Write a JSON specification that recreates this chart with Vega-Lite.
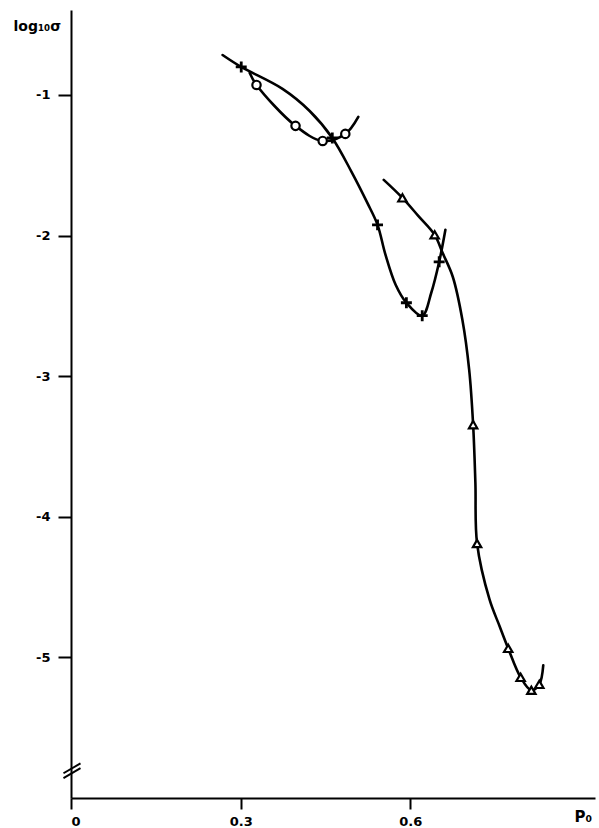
{
  "$schema": "https://vega.github.io/schema/vega-lite/v6.json",
  "width": 524,
  "height": 788,
  "autosize": {"type": "none"},
  "padding": {"left": 71, "top": 10, "right": 4, "bottom": 30},
  "background": "white",
  "config": {
    "view": {"stroke": null},
    "font": "DejaVu Sans",
    "axis": {
      "domainColor": "black",
      "domainWidth": 2,
      "tickColor": "black",
      "tickWidth": 2,
      "grid": false,
      "labelColor": "black",
      "labelFont": "DejaVu Sans",
      "labelFontWeight": "bold",
      "labelFontSize": 13,
      "titleColor": "black",
      "titleFont": "DejaVu Sans",
      "titleFontWeight": "bold"
    }
  },
  "datasets": {
    "curves": [
      {"series": "plus", "seq": 1, "p": 0.268, "logsigma": -0.716, "marked": 0},
      {"series": "plus", "seq": 2, "p": 0.301, "logsigma": -0.801, "marked": 1},
      {"series": "plus", "seq": 3, "p": 0.374, "logsigma": -0.957, "marked": 0},
      {"series": "plus", "seq": 4, "p": 0.422, "logsigma": -1.114, "marked": 0},
      {"series": "plus", "seq": 5, "p": 0.462, "logsigma": -1.306, "marked": 1},
      {"series": "plus", "seq": 6, "p": 0.496, "logsigma": -1.547, "marked": 0},
      {"series": "plus", "seq": 7, "p": 0.524, "logsigma": -1.768, "marked": 0},
      {"series": "plus", "seq": 8, "p": 0.542, "logsigma": -1.924, "marked": 1},
      {"series": "plus", "seq": 9, "p": 0.556, "logsigma": -2.136, "marked": 0},
      {"series": "plus", "seq": 10, "p": 0.574, "logsigma": -2.35, "marked": 0},
      {"series": "plus", "seq": 11, "p": 0.593, "logsigma": -2.478, "marked": 1},
      {"series": "plus", "seq": 12, "p": 0.621, "logsigma": -2.57, "marked": 1},
      {"series": "plus", "seq": 13, "p": 0.637, "logsigma": -2.407, "marked": 0},
      {"series": "plus", "seq": 14, "p": 0.651, "logsigma": -2.187, "marked": 1},
      {"series": "plus", "seq": 15, "p": 0.662, "logsigma": -1.959, "marked": 0},

      {"series": "circle", "seq": 1, "p": 0.316, "logsigma": -0.844, "marked": 0},
      {"series": "circle", "seq": 2, "p": 0.328, "logsigma": -0.929, "marked": 1},
      {"series": "circle", "seq": 3, "p": 0.397, "logsigma": -1.22, "marked": 1},
      {"series": "circle", "seq": 4, "p": 0.445, "logsigma": -1.327, "marked": 1},
      {"series": "circle", "seq": 5, "p": 0.485, "logsigma": -1.277, "marked": 1},
      {"series": "circle", "seq": 6, "p": 0.508, "logsigma": -1.156, "marked": 0},

      {"series": "triangle", "seq": 1, "p": 0.553, "logsigma": -1.604, "marked": 0},
      {"series": "triangle", "seq": 2, "p": 0.586, "logsigma": -1.732, "marked": 1},
      {"series": "triangle", "seq": 3, "p": 0.614, "logsigma": -1.86, "marked": 0},
      {"series": "triangle", "seq": 4, "p": 0.643, "logsigma": -1.995, "marked": 1},
      {"series": "triangle", "seq": 5, "p": 0.657, "logsigma": -2.123, "marked": 0},
      {"series": "triangle", "seq": 6, "p": 0.675, "logsigma": -2.293, "marked": 0},
      {"series": "triangle", "seq": 7, "p": 0.692, "logsigma": -2.599, "marked": 0},
      {"series": "triangle", "seq": 8, "p": 0.704, "logsigma": -2.954, "marked": 0},
      {"series": "triangle", "seq": 9, "p": 0.711, "logsigma": -3.345, "marked": 1},
      {"series": "triangle", "seq": 10, "p": 0.715, "logsigma": -3.757, "marked": 0},
      {"series": "triangle", "seq": 11, "p": 0.718, "logsigma": -4.19, "marked": 1},
      {"series": "triangle", "seq": 12, "p": 0.74, "logsigma": -4.588, "marked": 0},
      {"series": "triangle", "seq": 13, "p": 0.758, "logsigma": -4.78, "marked": 0},
      {"series": "triangle", "seq": 14, "p": 0.773, "logsigma": -4.936, "marked": 1},
      {"series": "triangle", "seq": 15, "p": 0.795, "logsigma": -5.142, "marked": 1},
      {"series": "triangle", "seq": 16, "p": 0.814, "logsigma": -5.234, "marked": 1},
      {"series": "triangle", "seq": 17, "p": 0.828, "logsigma": -5.192, "marked": 1},
      {"series": "triangle", "seq": 18, "p": 0.835, "logsigma": -5.057, "marked": 0}
    ],
    "breaks": [
      {"p": -0.0133, "logsigma": -5.824, "p2": 0.0168, "logsigma2": -5.753},
      {"p": -0.0133, "logsigma": -5.859, "p2": 0.0168, "logsigma2": -5.788}
    ]
  },
  "encoding": {
    "x": {
      "field": "p",
      "type": "quantitative",
      "scale": {"domain": [0, 0.9265], "nice": false, "zero": false},
      "axis": {
        "values": [0, 0.3, 0.6],
        "labelExpr": "datum.value == 0 ? '0' : format(datum.value, '.1f')",
        "tickSize": 11,
        "labelPadding": 6,
        "title": "P₀",
        "titleFontSize": 15,
        "titleAlign": "left",
        "titleBaseline": "alphabetic",
        "titleAnchor": null,
        "titleX": 503,
        "titleY": 23
      }
    },
    "y": {
      "field": "logsigma",
      "type": "quantitative",
      "scale": {"domain": [-6, -0.396], "nice": false, "zero": false},
      "axis": {
        "values": [-1, -2, -3, -4, -5],
        "labelExpr": "'-' + abs(datum.value)",
        "tickSize": 13,
        "labelPadding": 8,
        "title": "log₁₀σ",
        "titleAngle": 0,
        "titleFontSize": 14,
        "titleAlign": "left",
        "titleBaseline": "alphabetic",
        "titleAnchor": null,
        "titleX": -58,
        "titleY": 20
      }
    }
  },
  "layer": [
    {
      "data": {"name": "curves"},
      "mark": {"type": "line", "interpolate": "catmull-rom", "color": "black", "strokeWidth": 2.6, "strokeCap": "round"},
      "encoding": {
        "detail": {"field": "series", "type": "nominal"},
        "order": {"field": "seq", "type": "quantitative"}
      }
    },
    {
      "data": {"name": "breaks"},
      "mark": {"type": "rule", "color": "black", "strokeWidth": 2},
      "encoding": {
        "x2": {"field": "p2"},
        "y2": {"field": "logsigma2"}
      }
    },
    {
      "data": {"name": "curves"},
      "transform": [{"filter": "datum.series == 'plus' && datum.marked == 1"}],
      "mark": {"type": "point", "shape": "M-1,0H1M0,-1V1", "size": 120, "filled": false, "color": "black", "strokeWidth": 2.8, "opacity": 1}
    },
    {
      "data": {"name": "curves"},
      "transform": [{"filter": "datum.series == 'circle' && datum.marked == 1"}],
      "mark": {"type": "point", "shape": "circle", "size": 70, "fill": "white", "stroke": "black", "strokeWidth": 2.2, "opacity": 1}
    },
    {
      "data": {"name": "curves"},
      "transform": [{"filter": "datum.series == 'triangle' && datum.marked == 1"}],
      "mark": {"type": "point", "shape": "triangle-up", "size": 70, "fill": "white", "stroke": "black", "strokeWidth": 2.2, "opacity": 1}
    }
  ]
}
